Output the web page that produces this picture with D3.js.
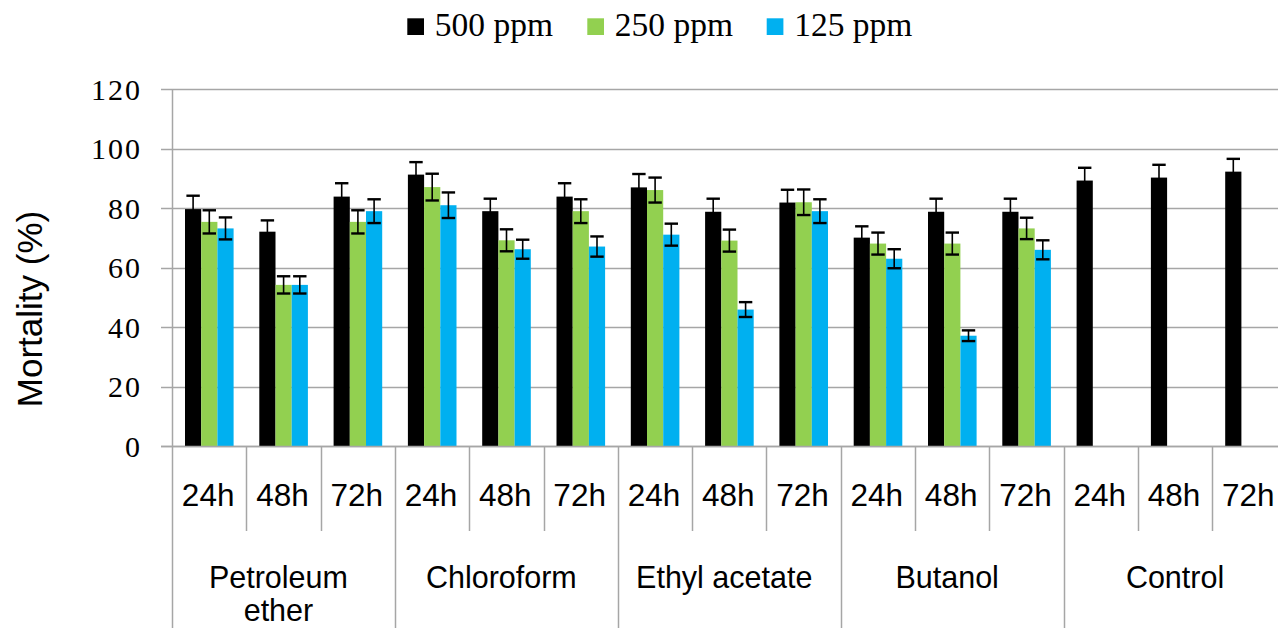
<!DOCTYPE html>
<html>
<head>
<meta charset="utf-8">
<script src="https://cdn.jsdelivr.net/npm/d3@7"></script>
<style>
  body { margin: 0; background: #fff; }
  svg { display: block; }
</style>
</head>
<body>
<script>
// Data
const solvents = ["Petroleum ether", "Chloroform", "Ethyl acetate", "Butanol", "Control"];
const hours = ["24h", "48h", "72h"];
const series = ["500 ppm", "250 ppm", "125 ppm"];
const colors = ["#000000", "#92d050", "#00b0f0"];

const ppm500 = [79.7, 72.1, 83.9, 91.3, 79, 83.9, 87, 78.8, 81.9, 70.1, 78.8, 78.8, 89.3, 90.3, 92.3];
const ppm250 = [75.4, 54.2, 75.4, 87.1, 69.2, 79, 86.1, 69.1, 82, 68.1, 68.1, 73.2, null, null, null];
const ppm125 = [73.2, 54.2, 79, 81, 66.2, 67.1, 71.1, 45.9, 79, 63, 37.1, 66, null, null, null];
const err500 = [4.5, 3.8, 4.5, 4.2, 4.2, 4.5, 4.5, 4.4, 4.3, 3.8, 4.4, 4.4, 4.3, 4.3, 4.3];
const err250 = [3.9, 2.9, 3.9, 4.5, 3.7, 4.0, 4.2, 3.7, 4.3, 3.7, 3.7, 3.6, null, null, null];
const err125 = [3.7, 2.9, 4.0, 4.3, 3.2, 3.4, 3.7, 2.5, 4.0, 3.2, 1.8, 3.2, null, null, null];
const yTicks = [0, 20, 40, 60, 80, 100, 120];

const values = [ppm500, ppm250, ppm125];
const errors = [err500, err250, err125];

// Canvas setup
const width = 1278;
const height = 628;
const gridColor = "#a6a6a6";

const svg = d3.select("body").append("svg")
  .attr("width", width)
  .attr("height", height);

// category keys: one per solvent x hour
const cats = [];
solvents.forEach(s => hours.forEach(h => cats.push(s + "|" + h)));

const catW = 74.3;
const left = 172;
const x = d3.scaleBand()
  .domain(cats)
  .range([left, left + catW * cats.length])
  .padding(0);

const xInner = d3.scaleBand()
  .domain(series)
  .range([13, 13 + 48.6])
  .padding(0);

const y = d3.scaleLinear()
  .domain([0, 120])
  .range([446, 89.3]);

const plotRight = left + catW * cats.length;

// gridlines + tick marks
svg.append("g")
  .selectAll("line")
  .data(yTicks)
  .join("line")
  .attr("x1", 161)
  .attr("x2", plotRight)
  .attr("y1", d => Math.round(y(d)) + 0.5)
  .attr("y2", d => Math.round(y(d)) + 0.5)
  .attr("stroke", gridColor)
  .attr("stroke-width", 1.5);

// y tick labels
svg.append("g")
  .selectAll("text")
  .data(yTicks)
  .join("text")
  .attr("x", 142)
  .attr("y", d => y(d) + 10.5)
  .attr("text-anchor", "end")
  .attr("font-family", "Liberation Serif, serif")
  .attr("font-size", 30)
  .attr("letter-spacing", 2)
  .attr("fill", "#000")
  .text(d => d);

// left axis line
svg.append("line")
  .attr("x1", left + 0.5).attr("x2", left + 0.5)
  .attr("y1", y(120)).attr("y2", height)
  .attr("stroke", gridColor)
  .attr("stroke-width", 1.5);

// hour separators (short) and solvent separators (long)
cats.forEach((c, i) => {
  if (i === 0) return;
  const xx = Math.round(x(c)) + 0.5;
  svg.append("line")
    .attr("x1", xx).attr("x2", xx)
    .attr("y1", 446)
    .attr("y2", i % hours.length === 0 ? height : 531)
    .attr("stroke", gridColor)
    .attr("stroke-width", 1.5);
});

// bars
series.forEach((s, si) => {
  const g = svg.append("g");
  const data = cats.map((c, i) => ({ c, v: values[si][i], e: errors[si][i] }))
    .filter(d => d.v != null);

  g.selectAll("rect")
    .data(data)
    .join("rect")
    .attr("x", d => x(d.c) + xInner(s))
    .attr("y", d => y(d.v))
    .attr("width", xInner.bandwidth())
    .attr("height", d => y(0) - y(d.v))
    .attr("fill", colors[si]);
});

// error bars drawn on top
series.forEach((s, si) => {
  const data = cats.map((c, i) => ({ c, v: values[si][i], e: errors[si][i] }))
    .filter(d => d.v != null);
  const g = svg.append("g").attr("stroke", "#000");
  data.forEach(d => {
    const cx = x(d.c) + xInner(s) + xInner.bandwidth() / 2;
    g.append("line")
      .attr("x1", cx).attr("x2", cx)
      .attr("y1", y(d.v + d.e)).attr("y2", y(d.v - d.e))
      .attr("stroke-width", 1.6);
    [d.v + d.e, d.v - d.e].forEach(v => {
      g.append("line")
        .attr("x1", cx - 6.7).attr("x2", cx + 6.7)
        .attr("y1", y(v)).attr("y2", y(v))
        .attr("stroke-width", 2.4);
    });
  });
});

// x axis line
svg.append("line")
  .attr("x1", 161).attr("x2", plotRight)
  .attr("y1", Math.round(y(0)) + 0.5).attr("y2", Math.round(y(0)) + 0.5)
  .attr("stroke", gridColor)
  .attr("stroke-width", 1.5);

// hour labels
svg.append("g")
  .selectAll("text")
  .data(cats)
  .join("text")
  .attr("x", d => x(d) + x.bandwidth() / 2 - 1)
  .attr("y", 506)
  .attr("text-anchor", "middle")
  .attr("font-family", "Liberation Sans, Arial, sans-serif")
  .attr("font-size", 31.5)
  .attr("fill", "#000")
  .text(d => d.split("|")[1]);

// solvent labels
const groupLabels = [["Petroleum", "ether"], ["Chloroform"], ["Ethyl acetate"], ["Butanol"], ["Control"]];
solvents.forEach((s, i) => {
  const x0 = x(s + "|" + hours[0]);
  const cx = x0 + catW * hours.length / 2 - (i === solvents.length - 1 ? 0 : 5);
  groupLabels[i].forEach((line, li) => {
    svg.append("text")
      .attr("x", cx)
      .attr("y", 588 + li * 33)
      .attr("text-anchor", "middle")
      .attr("font-family", "Liberation Sans, Arial, sans-serif")
      .attr("font-size", 30.5)
      .attr("fill", "#000")
      .text(line);
  });
});

// y title
svg.append("text")
  .attr("transform", "translate(41.5,309) rotate(-90)")
  .attr("text-anchor", "middle")
  .attr("font-family", "Liberation Sans, Arial, sans-serif")
  .attr("font-size", 35)
  .attr("fill", "#000")
  .text("Mortality (%)");

// legend
const legendX = [407.3, 587.3, 766.7];
const legend = svg.append("g");
series.forEach((s, i) => {
  legend.append("rect")
    .attr("x", legendX[i])
    .attr("y", 18.3)
    .attr("width", 16.7)
    .attr("height", 16.7)
    .attr("fill", colors[i]);
  legend.append("text")
    .attr("x", legendX[i] + 27.5)
    .attr("y", 36)
    .attr("font-family", "Liberation Serif, serif")
    .attr("font-size", 33.5)
    .attr("fill", "#000")
    .text(s);
});
</script>
</body>
</html>
